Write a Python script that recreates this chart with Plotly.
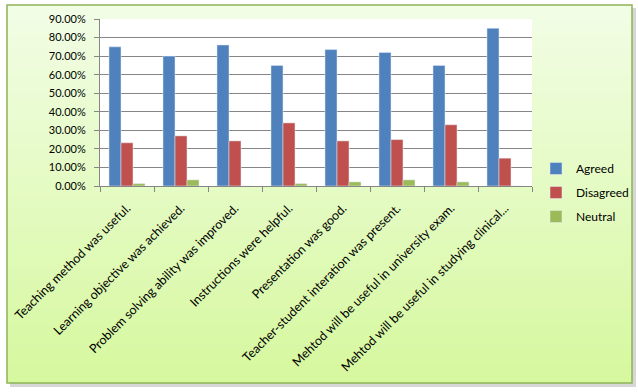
import plotly.graph_objects as go

categories = [
    "Teaching method was useful.",
    "Learning objective was achieved.",
    "Problem solving ability was improved.",
    "Instructions were helpful.",
    "Presentation was good.",
    "Teacher-student interation was present.",
    "Mehtod will be useful in university exam.",
    "Mehtod will be useful in studying clinical...",
]
agreed = [75.0, 70.0, 76.0, 65.0, 73.5, 72.0, 65.0, 85.0]
disagreed = [23.3, 27.0, 24.3, 34.0, 24.3, 25.0, 33.0, 15.0]
neutral = [1.3, 3.3, 0.0, 1.3, 2.2, 3.3, 2.2, 0.0]
y_ticks = [0, 10, 20, 30, 40, 50, 60, 70, 80, 90]
y_tick_labels = [f"{v:.2f}%" for v in y_ticks]

W, H = 638, 392
L, R, T, B = 100, 106, 19, 206
pw, ph = W - L - R, H - T - B

def px_x(p):
    return (p - L) / pw

def px_y(p):
    return (H - B - p) / ph

fig = go.Figure()
fig.add_bar(name="Agreed", x=categories, y=agreed, marker_color="#4f81bd", legendgroup="a")
fig.add_bar(name="Disagreed", x=categories, y=disagreed, marker_color="#c0504d", legendgroup="b")
fig.add_bar(name="Neutral", x=categories, y=neutral, marker_color="#9bbb59", legendgroup="c")

shapes = []
# shadow
shapes.append(dict(type="rect", xref="paper", yref="paper",
                   x0=px_x(10), x1=px_x(636), y0=px_y(387), y1=px_y(8),
                   fillcolor="rgba(140,140,140,0.35)", line_width=0, layer="below"))
# gradient background bands
x0b, x1b, y0b, y1b = 7, 632, 5, 383
n = 60
top = (242, 253, 230)
bot = (214, 248, 158)
for i in range(n):
    t = (i + 0.5) / n
    c = tuple(round(top[k] + (bot[k] - top[k]) * t) for k in range(3))
    ya = y0b + (y1b - y0b) * i / n
    yb = y0b + (y1b - y0b) * (i + 1) / n + 0.6
    shapes.append(dict(type="rect", xref="paper", yref="paper",
                       x0=px_x(x0b), x1=px_x(x1b), y0=px_y(min(yb, y1b)), y1=px_y(ya),
                       fillcolor="rgb(%d,%d,%d)" % c, line_width=0, layer="below"))
# border
shapes.append(dict(type="rect", xref="paper", yref="paper",
                   x0=px_x(x0b), x1=px_x(x1b), y0=px_y(y1b), y1=px_y(y0b),
                   fillcolor="rgba(0,0,0,0)", line=dict(color="#8fb356", width=1.5), layer="below"))
# white plot area
shapes.append(dict(type="rect", xref="paper", yref="paper",
                   x0=0, x1=1, y0=0, y1=1,
                   fillcolor="white", line_width=0, layer="below"))

fig.update_layout(
    width=W, height=H,
    margin=dict(l=L, r=R, t=T, b=B, autoexpand=False),
    paper_bgcolor="white",
    plot_bgcolor="white",
    barmode="group",
    bargap=0.333,
    bargroupgap=0,
    font=dict(family="Lato, Calibri, sans-serif", size=11, color="black"),
    shapes=shapes,
    legend=dict(x=px_x(536), y=px_y(154), xanchor="left", yanchor="top",
                bgcolor="rgba(0,0,0,0)", font=dict(size=12),
                traceorder="grouped", tracegroupgap=5,
                itemwidth=30),
    showlegend=True,
)
fig.update_xaxes(
    type="category", tickangle=-45, tickson="boundaries",
    ticks="outside", ticklen=5, tickcolor="#868686",
    showline=True, linecolor="#868686", linewidth=1,
    showgrid=False, tickfont=dict(size=12.5), automargin=False,
    ticklabelstandoff=9,
)
fig.update_yaxes(
    range=[0, 90], tickvals=y_ticks, ticktext=y_tick_labels,
    ticks="outside", ticklen=5, tickcolor="#868686",
    showline=True, linecolor="#868686", linewidth=1,
    showgrid=True, gridcolor="#868686", gridwidth=1,
    zeroline=False, tickfont=dict(size=11), automargin=False,
    ticklabelstandoff=6,
)

fig.write_html("out.html", config={"displayModeBar": False},
               post_script="document.body.style.margin='0';")
